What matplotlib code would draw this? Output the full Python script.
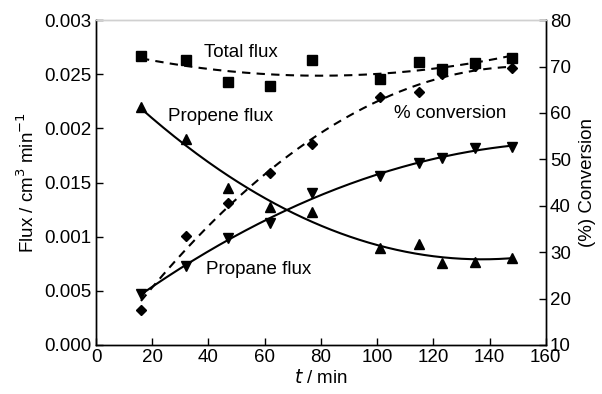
import numpy as np
import matplotlib.pyplot as plt

plt.rcParams['font.family'] = ['Liberation Sans', 'DejaVu Sans']
plt.rcParams['font.size'] = 13.5

# sampling times (min)
t = [16, 32, 47, 62, 77, 101, 115, 123, 135, 148]

# flux values (cm3/min)
total_flux = [0.00267, 0.00263, 0.00243, 0.00239, 0.00263, 0.00246, 0.00261, 0.00255, 0.00260, 0.00265]
propene_flux = [0.00220, 0.00190, 0.00145, 0.00127, 0.00123, 0.00090, 0.00093, 0.00076, 0.00077, 0.00080]
propane_flux = [0.00047, 0.00073, 0.00099, 0.00113, 0.00140, 0.00156, 0.00168, 0.00173, 0.00182, 0.00183]

# conversion (%) on the right axis
conversion = [17.5, 33.5, 40.5, 47.0, 53.2, 63.5, 64.4, 68.4, 70.1, 69.6]

# tick labels as printed on the original
left_ticks = [0, 0.0005, 0.001, 0.0015, 0.002, 0.0025, 0.003]
left_labels = ['0.000', '0.005', '0.001', '0.015', '0.002', '0.025', '0.003']

fs = 13.5

fig = plt.figure(figsize=(6.02, 3.94), dpi=100)
ax = fig.add_axes([0.1595, 0.1244, 0.747, 0.8246])
ax2 = ax.twinx()

tt = np.linspace(t[0], t[-1], 200)

def trend(y, deg=2):
    return np.polyval(np.polyfit(t, y, deg), tt)

dash = (0, (4, 3))
ax.plot(tt, trend(total_flux), color='black', lw=1.5, ls=dash)
ax.plot(tt, trend(propene_flux), color='black', lw=1.5)
ax.plot(tt, trend(propane_flux), color='black', lw=1.5)
ax.plot(t, total_flux, 's', color='black', ms=7.5)
ax.plot(t, propene_flux, '^', color='black', ms=7)
ax.plot(t, propane_flux, 'v', color='black', ms=7)

ax2.plot(tt, trend(conversion), color='black', lw=1.5, ls=dash)
ax2.plot(t, conversion, 'D', color='black', ms=5.5)

ax.set_xlim(0, 160)
ax.set_ylim(0, 0.003)
ax2.set_ylim(10, 80)
ax.set_xticks(range(0, 161, 20))
ax.set_yticks(left_ticks)
ax.set_yticklabels(left_labels)
ax2.set_yticks(range(10, 81, 10))

for a in (ax, ax2):
    a.tick_params(direction='in', length=5, width=1, labelsize=fs, pad=3)
    for s in a.spines.values():
        s.set_linewidth(1)
    a.spines['top'].set_color('#d0d0d0')

ax.set_xlabel('$t$ / min', fontsize=fs, labelpad=2)
ax.set_ylabel('Flux / cm$^3$ min$^{-1}$', fontsize=fs, labelpad=5)
ax2.set_ylabel('(%) Conversion', fontsize=fs, labelpad=6)

ax.text(51.7, 0.00270, 'Total flux', ha='center', va='center', fontsize=fs)
ax.text(44.3, 0.00211, 'Propene flux', ha='center', va='center', fontsize=fs)
ax.text(57.8, 0.00070, 'Propane flux', ha='center', va='center', fontsize=fs)
ax2.text(126, 59.8, '% conversion', ha='center', va='center', fontsize=fs)

fig.savefig('out.png', dpi=100)
